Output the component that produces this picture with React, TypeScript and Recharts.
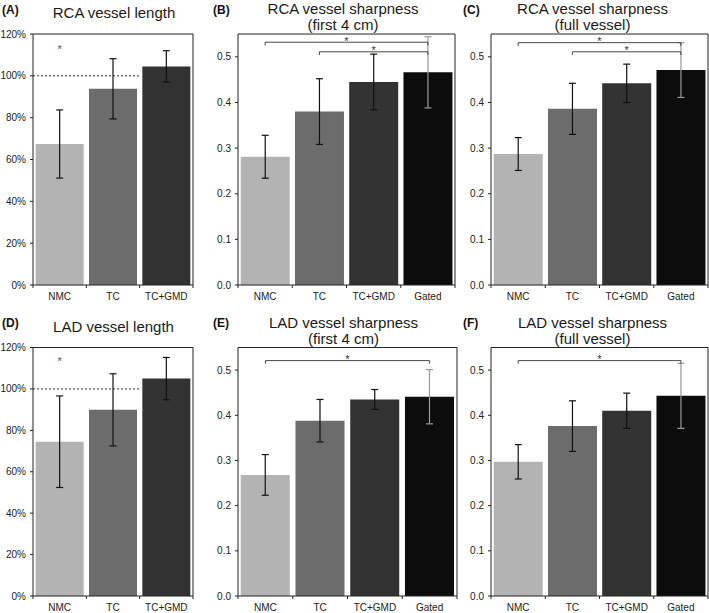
import React from 'react';
import { BarChart, Bar, XAxis, YAxis, ErrorBar, Cell, ReferenceLine, ReferenceDot } from 'recharts';

// ---------- data ----------
const groups4 = ['NMC', 'TC', 'TC+GMD', 'Gated'];
const groups3 = ['NMC', 'TC', 'TC+GMD'];
const barColors = ['#b3b3b3', '#6c6c6c', '#323232', '#0c0c0c'];

const rcaLengthMean = [67.4, 93.8, 104.5];
const rcaLengthSd = [16.3, 14.4, 7.5];
const ladLengthMean = [74.5, 89.9, 105.0];
const ladLengthSd = [22.1, 17.4, 10.2];

const rcaSharp4Mean = [0.281, 0.380, 0.445, 0.466];
const rcaSharp4Sd = [0.047, 0.072, 0.061, 0.078];
const rcaSharpFullMean = [0.287, 0.386, 0.442, 0.471];
const rcaSharpFullSd = [0.036, 0.056, 0.042, 0.060];
const ladSharp4Mean = [0.268, 0.388, 0.435, 0.441];
const ladSharp4Sd = [0.045, 0.047, 0.022, 0.060];
const ladSharpFullMean = [0.297, 0.376, 0.410, 0.443];
const ladSharpFullSd = [0.038, 0.056, 0.039, 0.072];

const pctTicks = [0, 20, 40, 60, 80, 100, 120];
const sharpTicks = [0, 0.1, 0.2, 0.3, 0.4, 0.5];

const rcaSharp4Brackets = [
  { from: 'NMC', to: 'Gated', y: 0.532 },
  { from: 'TC', to: 'Gated', y: 0.511 },
];
const rcaSharpFullBrackets = [
  { from: 'NMC', to: 'Gated', y: 0.531 },
  { from: 'TC', to: 'Gated', y: 0.511 },
];
const ladSharp4Brackets = [{ from: 'NMC', to: 'Gated', y: 0.521 }];
const ladSharpFullBrackets = [{ from: 'NMC', to: 'Gated', y: 0.521 }];
const bracketDrop = 0.007;

const rcaLengthStar = { x: 'NMC', y: 113 };
const ladLengthStar = { x: 'NMC', y: 113.3 };
const referenceLevel = 100;

// ---------- helpers ----------
const FONT = '"Liberation Sans", Arial, Helvetica, sans-serif';
const INK = '#222';
const X_TICK_MARGIN = 8;
const Y_AXIS_W = 33;

type Bracket = { from: string; to: string; y: number };

function buildData(groups: string[], means: number[], sds: number[]) {
  return groups.map((g, i) => ({
    cat: g,
    mean: means[i],
    errDark: g === 'Gated' ? null : sds[i],
    errLight: g === 'Gated' ? sds[i] : null,
  }));
}

const makeXTick = (halfBand: number, count: number) => (props: any) => {
  const { x, y, payload, index } = props;
  const axisY = y - X_TICK_MARGIN;
  return (
    <g>
      <line x1={x - halfBand} y1={axisY} x2={x - halfBand} y2={axisY + 3} stroke={INK} strokeWidth={1} />
      {index === count - 1 && (
        <line x1={x + halfBand} y1={axisY} x2={x + halfBand} y2={axisY + 3} stroke={INK} strokeWidth={1} />
      )}
      <text x={x} y={y} dy="0.71em" textAnchor="middle" fontSize={10} fill={INK}>
        {payload.value}
      </text>
    </g>
  );
};

type PanelProps = {
  left: number;
  top: number;
  height: number;
  marginTop: number;
  xAxisH: number;
  plotWidth: number;
  groups: string[];
  means: number[];
  sds: number[];
  yDomain: [number, number];
  yTicks: number[];
  yFmt: (v: number) => string;
  brackets?: Bracket[];
  star?: { x: string; y: number };
  refLevel?: number;
};

function Panel(p: PanelProps) {
  const data = buildData(p.groups, p.means, p.sds);
  const width = Y_AXIS_W + p.plotWidth + 6;
  const halfBand = p.plotWidth / (2 * p.groups.length);
  const last = p.groups[p.groups.length - 1];
  return (
    <div style={{ position: 'absolute', left: p.left, top: p.top }}>
      <BarChart
        width={width}
        height={p.height}
        data={data}
        margin={{ top: p.marginTop, right: 6, bottom: 0, left: 0 }}
        barCategoryGap="5%"
      >
        <XAxis
          dataKey="cat"
          height={p.xAxisH}
          tickLine={false}
          tickSize={0}
          tickMargin={X_TICK_MARGIN}
          axisLine={{ stroke: INK, strokeWidth: 1 }}
          tick={makeXTick(halfBand, p.groups.length)}
          interval={0}
        />
        <YAxis
          width={Y_AXIS_W}
          domain={p.yDomain}
          ticks={p.yTicks}
          allowDataOverflow
          tickFormatter={p.yFmt}
          tickSize={3}
          tickMargin={4}
          tickLine={{ stroke: INK }}
          axisLine={{ stroke: INK, strokeWidth: 1 }}
          tick={{ fontSize: 10, fill: INK }}
          interval={0}
        />
        {p.refLevel !== undefined && (
          <ReferenceLine
            position="start"
            segment={[
              { x: p.groups[0], y: p.refLevel },
              { x: last, y: p.refLevel },
            ]}
            stroke="#333"
            strokeWidth={1}
            strokeDasharray="2 2"
          />
        )}
        <Bar dataKey="mean" isAnimationActive={false}>
          {data.map((d, i) => (
            <Cell key={d.cat} fill={barColors[i]} />
          ))}
          <ErrorBar dataKey="errDark" width={3.5} stroke="#111" strokeWidth={1.2} direction="y" />
          <ErrorBar dataKey="errLight" width={3.5} stroke="#9a9a9a" strokeWidth={1.2} direction="y" />
        </Bar>
        {/* frame: top and right edges of the plot box */}
        <ReferenceLine y={p.yDomain[1]} stroke={INK} strokeWidth={1} ifOverflow="visible" />
        <ReferenceLine x={last} position="end" stroke={INK} strokeWidth={1} ifOverflow="visible" />
        {(p.brackets || []).map((b, i) => (
          <ReferenceLine
            key={'h' + i}
            position="middle"
            segment={[
              { x: b.from, y: b.y },
              { x: b.to, y: b.y },
            ]}
            stroke="#333"
            strokeWidth={0.9}
            label={{ value: '*', position: 'top', offset: -2.6, fontSize: 11, fill: '#333' }}
          />
        ))}
        {(p.brackets || []).map((b, i) => (
          <ReferenceLine
            key={'l' + i}
            position="middle"
            segment={[
              { x: b.from, y: b.y },
              { x: b.from, y: b.y - bracketDrop },
            ]}
            stroke="#333"
            strokeWidth={0.9}
          />
        ))}
        {(p.brackets || []).map((b, i) => (
          <ReferenceLine
            key={'r' + i}
            position="middle"
            segment={[
              { x: b.to, y: b.y },
              { x: b.to, y: b.y - bracketDrop },
            ]}
            stroke="#333"
            strokeWidth={0.9}
          />
        ))}
        {p.star && (
          <ReferenceDot
            x={p.star.x}
            y={p.star.y}
            r={0}
            stroke="none"
            fill="none"
            label={{ value: '*', position: 'center', fontSize: 11, fill: '#555' }}
          />
        )}
      </BarChart>
    </div>
  );
}

function Title({ cx, top, lines }: { cx: number; top: number; lines: string[] }) {
  return (
    <div
      style={{
        position: 'absolute',
        left: cx,
        top,
        transform: 'translateX(-50%)',
        fontSize: 15,
        lineHeight: '16px',
        textAlign: 'center',
        whiteSpace: 'nowrap',
        color: '#1a1a1a',
      }}
    >
      {lines.map((l, i) => (
        <div key={i}>{l}</div>
      ))}
    </div>
  );
}

function Tag({ x, y, text }: { x: number; y: number; text: string }) {
  return (
    <div
      style={{
        position: 'absolute',
        left: x,
        top: y,
        fontSize: 12,
        fontWeight: 'bold',
        lineHeight: '14px',
        color: '#111',
      }}
    >
      {text}
    </div>
  );
}

const pctFmt = (v: number) => `${v}%`;
const decFmt = (v: number) => v.toFixed(1);

export default function App() {
  return (
    <div
      style={{
        position: 'absolute',
        left: 0,
        top: 0,
        width: 709,
        height: 613,
        overflow: 'hidden',
        background: '#fff',
        fontFamily: FONT,
      }}
    >
      {/* top row */}
      <Panel left={0} top={0} height={310} marginTop={34} xAxisH={25} plotWidth={160}
        groups={groups3} means={rcaLengthMean} sds={rcaLengthSd}
        yDomain={[0, 120]} yTicks={pctTicks} yFmt={pctFmt}
        star={rcaLengthStar} refLevel={referenceLevel} />
      <Panel left={205} top={0} height={310} marginTop={34} xAxisH={25} plotWidth={217}
        groups={groups4} means={rcaSharp4Mean} sds={rcaSharp4Sd}
        yDomain={[0, 0.55]} yTicks={sharpTicks} yFmt={decFmt}
        brackets={rcaSharp4Brackets} />
      <Panel left={458} top={0} height={310} marginTop={34} xAxisH={25} plotWidth={217}
        groups={groups4} means={rcaSharpFullMean} sds={rcaSharpFullSd}
        yDomain={[0, 0.55]} yTicks={sharpTicks} yFmt={decFmt}
        brackets={rcaSharpFullBrackets} />

      {/* bottom row */}
      <Panel left={0} top={313} height={300} marginTop={34.5} xAxisH={17} plotWidth={160}
        groups={groups3} means={ladLengthMean} sds={ladLengthSd}
        yDomain={[0, 120]} yTicks={pctTicks} yFmt={pctFmt}
        star={ladLengthStar} refLevel={referenceLevel} />
      <Panel left={204.5} top={313} height={300} marginTop={34.5} xAxisH={17} plotWidth={219}
        groups={groups4} means={ladSharp4Mean} sds={ladSharp4Sd}
        yDomain={[0, 0.55]} yTicks={sharpTicks} yFmt={decFmt}
        brackets={ladSharp4Brackets} />
      <Panel left={458} top={313} height={300} marginTop={34.5} xAxisH={17} plotWidth={217}
        groups={groups4} means={ladSharpFullMean} sds={ladSharpFullSd}
        yDomain={[0, 0.55]} yTicks={sharpTicks} yFmt={decFmt}
        brackets={ladSharpFullBrackets} />

      <Title cx={114} top={5} lines={['RCA vessel length']} />
      <Title cx={343} top={1} lines={['RCA vessel sharpness', '(first 4 cm)']} />
      <Title cx={592.5} top={1} lines={['RCA vessel sharpness', '(full vessel)']} />
      <Title cx={113.5} top={318.5} lines={['LAD vessel length']} />
      <Title cx={343.5} top={314.5} lines={['LAD vessel sharpness', '(first 4 cm)']} />
      <Title cx={592.5} top={314.5} lines={['LAD vessel sharpness', '(full vessel)']} />

      <Tag x={2} y={3} text="(A)" />
      <Tag x={213} y={3} text="(B)" />
      <Tag x={463} y={3} text="(C)" />
      <Tag x={2} y={316} text="(D)" />
      <Tag x={213} y={316} text="(E)" />
      <Tag x={463} y={316} text="(F)" />
    </div>
  );
}
